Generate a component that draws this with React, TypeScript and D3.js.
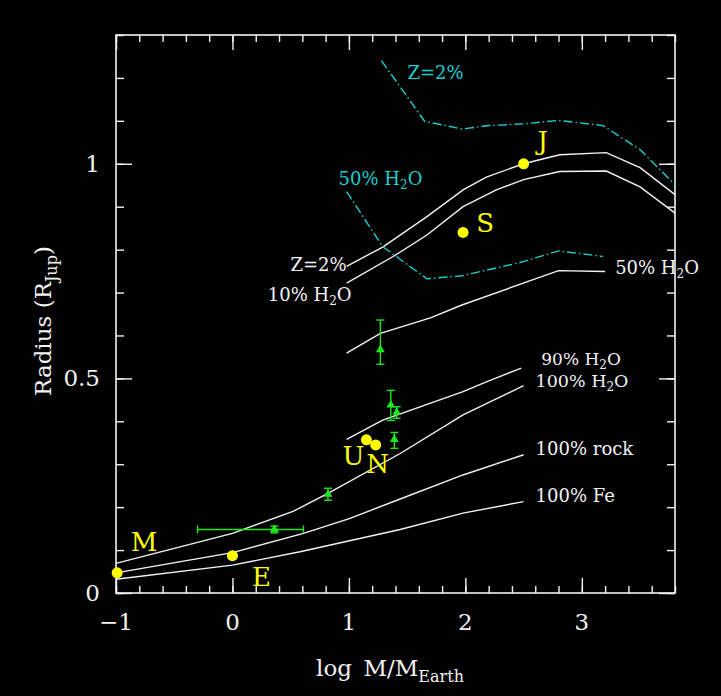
import React, { useEffect, useRef } from 'react';
import * as d3 from 'd3';

// model curves: log M/M_Earth vs radius in R_Jup
const z2LogM = [0.98, 1.29, 1.67, 1.98, 2.18, 2.5, 2.81, 3.21, 3.5, 3.8];
const z2Radius = [0.761, 0.806, 0.877, 0.939, 0.969, 1.0, 1.021, 1.026, 0.991, 0.928];

const h2o10LogM = [0.98, 1.38, 1.67, 1.98, 2.27, 2.5, 2.81, 3.21, 3.5, 3.8];
const h2o10Radius = [0.722, 0.784, 0.834, 0.9, 0.94, 0.963, 0.982, 0.983, 0.946, 0.885];

const h2o50LogM = [0.98, 1.27, 1.7, 1.97, 2.8, 3.2];
const h2o50Radius = [0.559, 0.605, 0.641, 0.671, 0.751, 0.749];

const h2o90LogM = [0.98, 1.29, 1.98, 2.18, 2.48];
const h2o90Radius = [0.358, 0.403, 0.469, 0.492, 0.524];

const h2o100LogM = [-1.0, 0.0, 0.52, 0.82, 1.44, 1.98, 2.5];
const h2o100Radius = [0.069, 0.139, 0.19, 0.232, 0.325, 0.415, 0.483];

const rockLogM = [-1.0, 0.0, 0.61, 1.01, 1.44, 1.98, 2.5];
const rockRadius = [0.047, 0.094, 0.139, 0.174, 0.219, 0.275, 0.322];

const feLogM = [-1.0, 0.0, 0.58, 1.44, 1.98, 2.5];
const feRadius = [0.032, 0.065, 0.096, 0.148, 0.186, 0.213];

// dash-dot (cyan) curves
const cz2LogM = [1.28, 1.65, 1.97, 2.2, 2.5, 2.8, 3.18, 3.5, 3.8];
const cz2Radius = [1.24, 1.099, 1.081, 1.089, 1.093, 1.101, 1.089, 1.033, 0.951];

const c50LogM = [0.98, 1.29, 1.67, 1.97, 2.47, 2.8, 3.18];
const c50Radius = [0.935, 0.807, 0.732, 0.739, 0.77, 0.797, 0.784];

// solar system planets
const planetNames = ['M', 'E', 'U', 'N', 'S', 'J'];
const planetLogM = [-0.99, 0.0, 1.15, 1.23, 1.98, 2.5];
const planetRadius = [0.047, 0.087, 0.357, 0.345, 0.84, 1.0];

// observed objects with error bars
const obsLogM = [0.36, 0.82, 1.27, 1.36, 1.41, 1.39];
const obsRadius = [0.148, 0.23, 0.567, 0.438, 0.421, 0.358];
const obsRadLo = [0.008, 0.014, 0.034, 0.036, 0.014, 0.021];
const obsRadHi = [0.008, 0.014, 0.069, 0.034, 0.013, 0.016];
const obsMassLo = [0.66, 0, 0, 0, 0, 0];
const obsMassHi = [0.25, 0, 0, 0, 0, 0];

const xTickLabels = [-1, 0, 1, 2, 3];
const yTickLabels = [0, 0.5, 1];

const FONT = "'DejaVu Serif', 'Liberation Serif', serif";
const WHITE = '#f2f2f2';
const CYAN = '#17cfcf';
const YELLOW = '#ffff00';
const GREEN = '#1ee61e';

export default function App() {
  const ref = useRef<SVGSVGElement>(null);

  useEffect(() => {
    const svg = d3.select(ref.current);
    svg.selectAll('*').remove();

    const left = 116, right = 675, top = 35, bottom = 593;

    const x = d3.scaleLinear().domain([-1, 3.8]).range([left, right]);
    const y = d3.scaleLinear().domain([0, 1.3]).range([bottom, top]);

    svg.append('rect').attr('width', 721).attr('height', 696).attr('fill', '#000');

    // ticks on all four sides, pointing inward
    const xMinor = d3.range(-5, 20).map((i) => i / 5);
    const yMinor = d3.range(0, 14).map((i) => i / 10);
    const tickGroups: [any, string][] = [
      [d3.axisTop(x).tickValues(xMinor).tickSize(7), `translate(0,${bottom})`],
      [d3.axisTop(x).tickValues(xTickLabels).tickSize(15), `translate(0,${bottom})`],
      [d3.axisBottom(x).tickValues(xMinor).tickSize(7), `translate(0,${top})`],
      [d3.axisBottom(x).tickValues(xTickLabels).tickSize(15), `translate(0,${top})`],
      [d3.axisRight(y).tickValues(yMinor).tickSize(8), `translate(${left},0)`],
      [d3.axisRight(y).tickValues(yTickLabels).tickSize(16), `translate(${left},0)`],
      [d3.axisLeft(y).tickValues(yMinor).tickSize(8), `translate(${right},0)`],
      [d3.axisLeft(y).tickValues(yTickLabels).tickSize(16), `translate(${right},0)`],
    ];
    tickGroups.forEach(([ax, tr]) => {
      const g = svg.append('g').attr('transform', tr).call(ax.tickFormat(() => ''));
      g.select('.domain').remove();
      g.selectAll('line').attr('stroke', WHITE).attr('stroke-width', 1.4);
    });

    svg.append('rect')
      .attr('x', left).attr('y', top)
      .attr('width', right - left).attr('height', bottom - top)
      .attr('fill', 'none').attr('stroke', WHITE).attr('stroke-width', 1.6);

    // tick labels
    svg.selectAll('.xlab')
      .data(xTickLabels)
      .enter().append('text')
      .attr('x', (d) => x(d))
      .attr('y', 630)
      .attr('text-anchor', 'middle')
      .attr('font-family', FONT).attr('font-size', 23).attr('fill', WHITE)
      .text((d) => (d < 0 ? '\u2212' + Math.abs(d) : String(d)));

    svg.selectAll('.ylab')
      .data(yTickLabels)
      .enter().append('text')
      .attr('x', 100)
      .attr('y', (d) => y(d) + 8)
      .attr('text-anchor', 'end')
      .attr('font-family', FONT).attr('font-size', 23).attr('fill', WHITE)
      .text((d) => String(d));

    // axis titles
    const xt = svg.append('text')
      .attr('x', 390).attr('y', 676)
      .attr('text-anchor', 'middle')
      .attr('font-family', FONT).attr('font-size', 23).attr('fill', WHITE);
    xt.append('tspan').text('log\u2002M/M');
    xt.append('tspan').attr('font-size', 16).attr('dy', 6).text('Earth');

    const yt = svg.append('text')
      .attr('transform', 'translate(51,321) rotate(-90)')
      .attr('text-anchor', 'middle')
      .attr('font-family', FONT).attr('font-size', 23).attr('fill', WHITE);
    yt.append('tspan').text('Radius (R');
    yt.append('tspan').attr('font-size', 16).attr('dy', 6).text('Jup');
    yt.append('tspan').attr('dy', -6).text(')');

    const line = d3.line<[number, number]>()
      .x((d) => x(d[0]))
      .y((d) => y(d[1]));
    const zip = (a: number[], b: number[]) => a.map((v, i) => [v, b[i]] as [number, number]);

    const curves = [
      { m: z2LogM, r: z2Radius, c: WHITE, dash: null },
      { m: h2o10LogM, r: h2o10Radius, c: WHITE, dash: null },
      { m: h2o50LogM, r: h2o50Radius, c: WHITE, dash: null },
      { m: h2o90LogM, r: h2o90Radius, c: WHITE, dash: null },
      { m: h2o100LogM, r: h2o100Radius, c: WHITE, dash: null },
      { m: rockLogM, r: rockRadius, c: WHITE, dash: null },
      { m: feLogM, r: feRadius, c: WHITE, dash: null },
      { m: cz2LogM, r: cz2Radius, c: CYAN, dash: '9,3,1.5,3' },
      { m: c50LogM, r: c50Radius, c: CYAN, dash: '9,3,1.5,3' },
    ];
    curves.forEach((cv) => {
      svg.append('path')
        .attr('d', line(zip(cv.m, cv.r)))
        .attr('fill', 'none')
        .attr('stroke', cv.c)
        .attr('stroke-width', 1.4)
        .attr('stroke-dasharray', cv.dash);
    });

    // curve labels, anchored to curve ends
    const label = (txt: string, sub: string, rest: string, px: number, py: number,
                   anchor: string, color: string, size = 18) => {
      const t = svg.append('text')
        .attr('x', px).attr('y', py)
        .attr('text-anchor', anchor)
        .attr('font-family', FONT).attr('font-size', size).attr('fill', color);
      t.append('tspan').text(txt);
      if (sub) {
        t.append('tspan').attr('font-size', 12).attr('dy', 4).text(sub);
        t.append('tspan').attr('dy', -4).text(rest);
      }
    };
    label('Z=2%', '', '', x(z2LogM[0]), y(z2Radius[0]) + 5, 'end', WHITE);
    label('10% H', '2', 'O', x(h2o10LogM[0]) + 5, y(h2o10Radius[0]) + 18, 'end', WHITE);
    label('50% H', '2', 'O', x(h2o50LogM[5]) + 10, y(h2o50Radius[5]) + 2, 'start', WHITE);
    label('90% H', '2', 'O', x(h2o90LogM[4]) + 20, y(h2o90Radius[4]) - 3, 'start', WHITE, 17);
    label('100% H', '2', 'O', x(h2o100LogM[6]) + 12, y(h2o100Radius[6]) + 1, 'start', WHITE, 17.5);
    label('100% rock', '', '', x(rockLogM[6]) + 12, y(rockRadius[6]), 'start', WHITE);
    label('100% Fe', '', '', x(feLogM[5]) + 12, y(feRadius[5]), 'start', WHITE);
    label('Z=2%', '', '', x(cz2LogM[0]) + 26, y(cz2Radius[0]) + 18, 'start', CYAN);
    label('50% H', '2', 'O', x(c50LogM[0]) - 8, y(c50Radius[0]) - 7, 'start', CYAN);

    // observed objects
    const obs = svg.append('g').attr('stroke', GREEN).attr('stroke-width', 1.4);
    obsLogM.forEach((m, i) => {
      const cx = x(m), cy = y(obsRadius[i]);
      const y0 = y(obsRadius[i] - obsRadLo[i]), y1 = y(obsRadius[i] + obsRadHi[i]);
      obs.append('line').attr('x1', cx).attr('x2', cx).attr('y1', y0).attr('y2', y1);
      obs.append('line').attr('x1', cx - 4).attr('x2', cx + 4).attr('y1', y0).attr('y2', y0);
      obs.append('line').attr('x1', cx - 4).attr('x2', cx + 4).attr('y1', y1).attr('y2', y1);
      if (obsMassLo[i] > 0 || obsMassHi[i] > 0) {
        const x0 = x(m - obsMassLo[i]), x1 = x(m + obsMassHi[i]);
        obs.append('line').attr('x1', x0).attr('x2', x1).attr('y1', cy).attr('y2', cy);
        obs.append('line').attr('x1', x0).attr('x2', x0).attr('y1', cy - 4).attr('y2', cy + 4);
        obs.append('line').attr('x1', x1).attr('x2', x1).attr('y1', cy - 4).attr('y2', cy + 4);
      }
    });
    svg.selectAll('.tri')
      .data(obsLogM)
      .enter().append('path')
      .attr('d', d3.symbol().type(d3.symbolTriangle).size(34)())
      .attr('transform', (d, i) => `translate(${x(d)},${y(obsRadius[i])})`)
      .attr('fill', GREEN);

    // planets
    const labelOffset: { [k: string]: [number, number] } = {
      M: [27, -22], E: [29, 30], U: [-13, 25], N: [2, 28], S: [22, 0], J: [19, -14],
    };
    planetNames.forEach((name, i) => {
      const px = x(planetLogM[i]), py = y(planetRadius[i]);
      svg.append('circle').attr('cx', px).attr('cy', py).attr('r', 5.5).attr('fill', YELLOW);
      svg.append('text')
        .attr('x', px + labelOffset[name][0])
        .attr('y', py + labelOffset[name][1])
        .attr('text-anchor', 'middle')
        .attr('font-family', FONT).attr('font-size', 26).attr('fill', YELLOW)
        .text(name);
    });
  }, []);

  return (
    <svg
      ref={ref}
      width={721}
      height={696}
      style={{ position: 'absolute', left: 0, top: 0, background: '#000' }}
    />
  );
}
